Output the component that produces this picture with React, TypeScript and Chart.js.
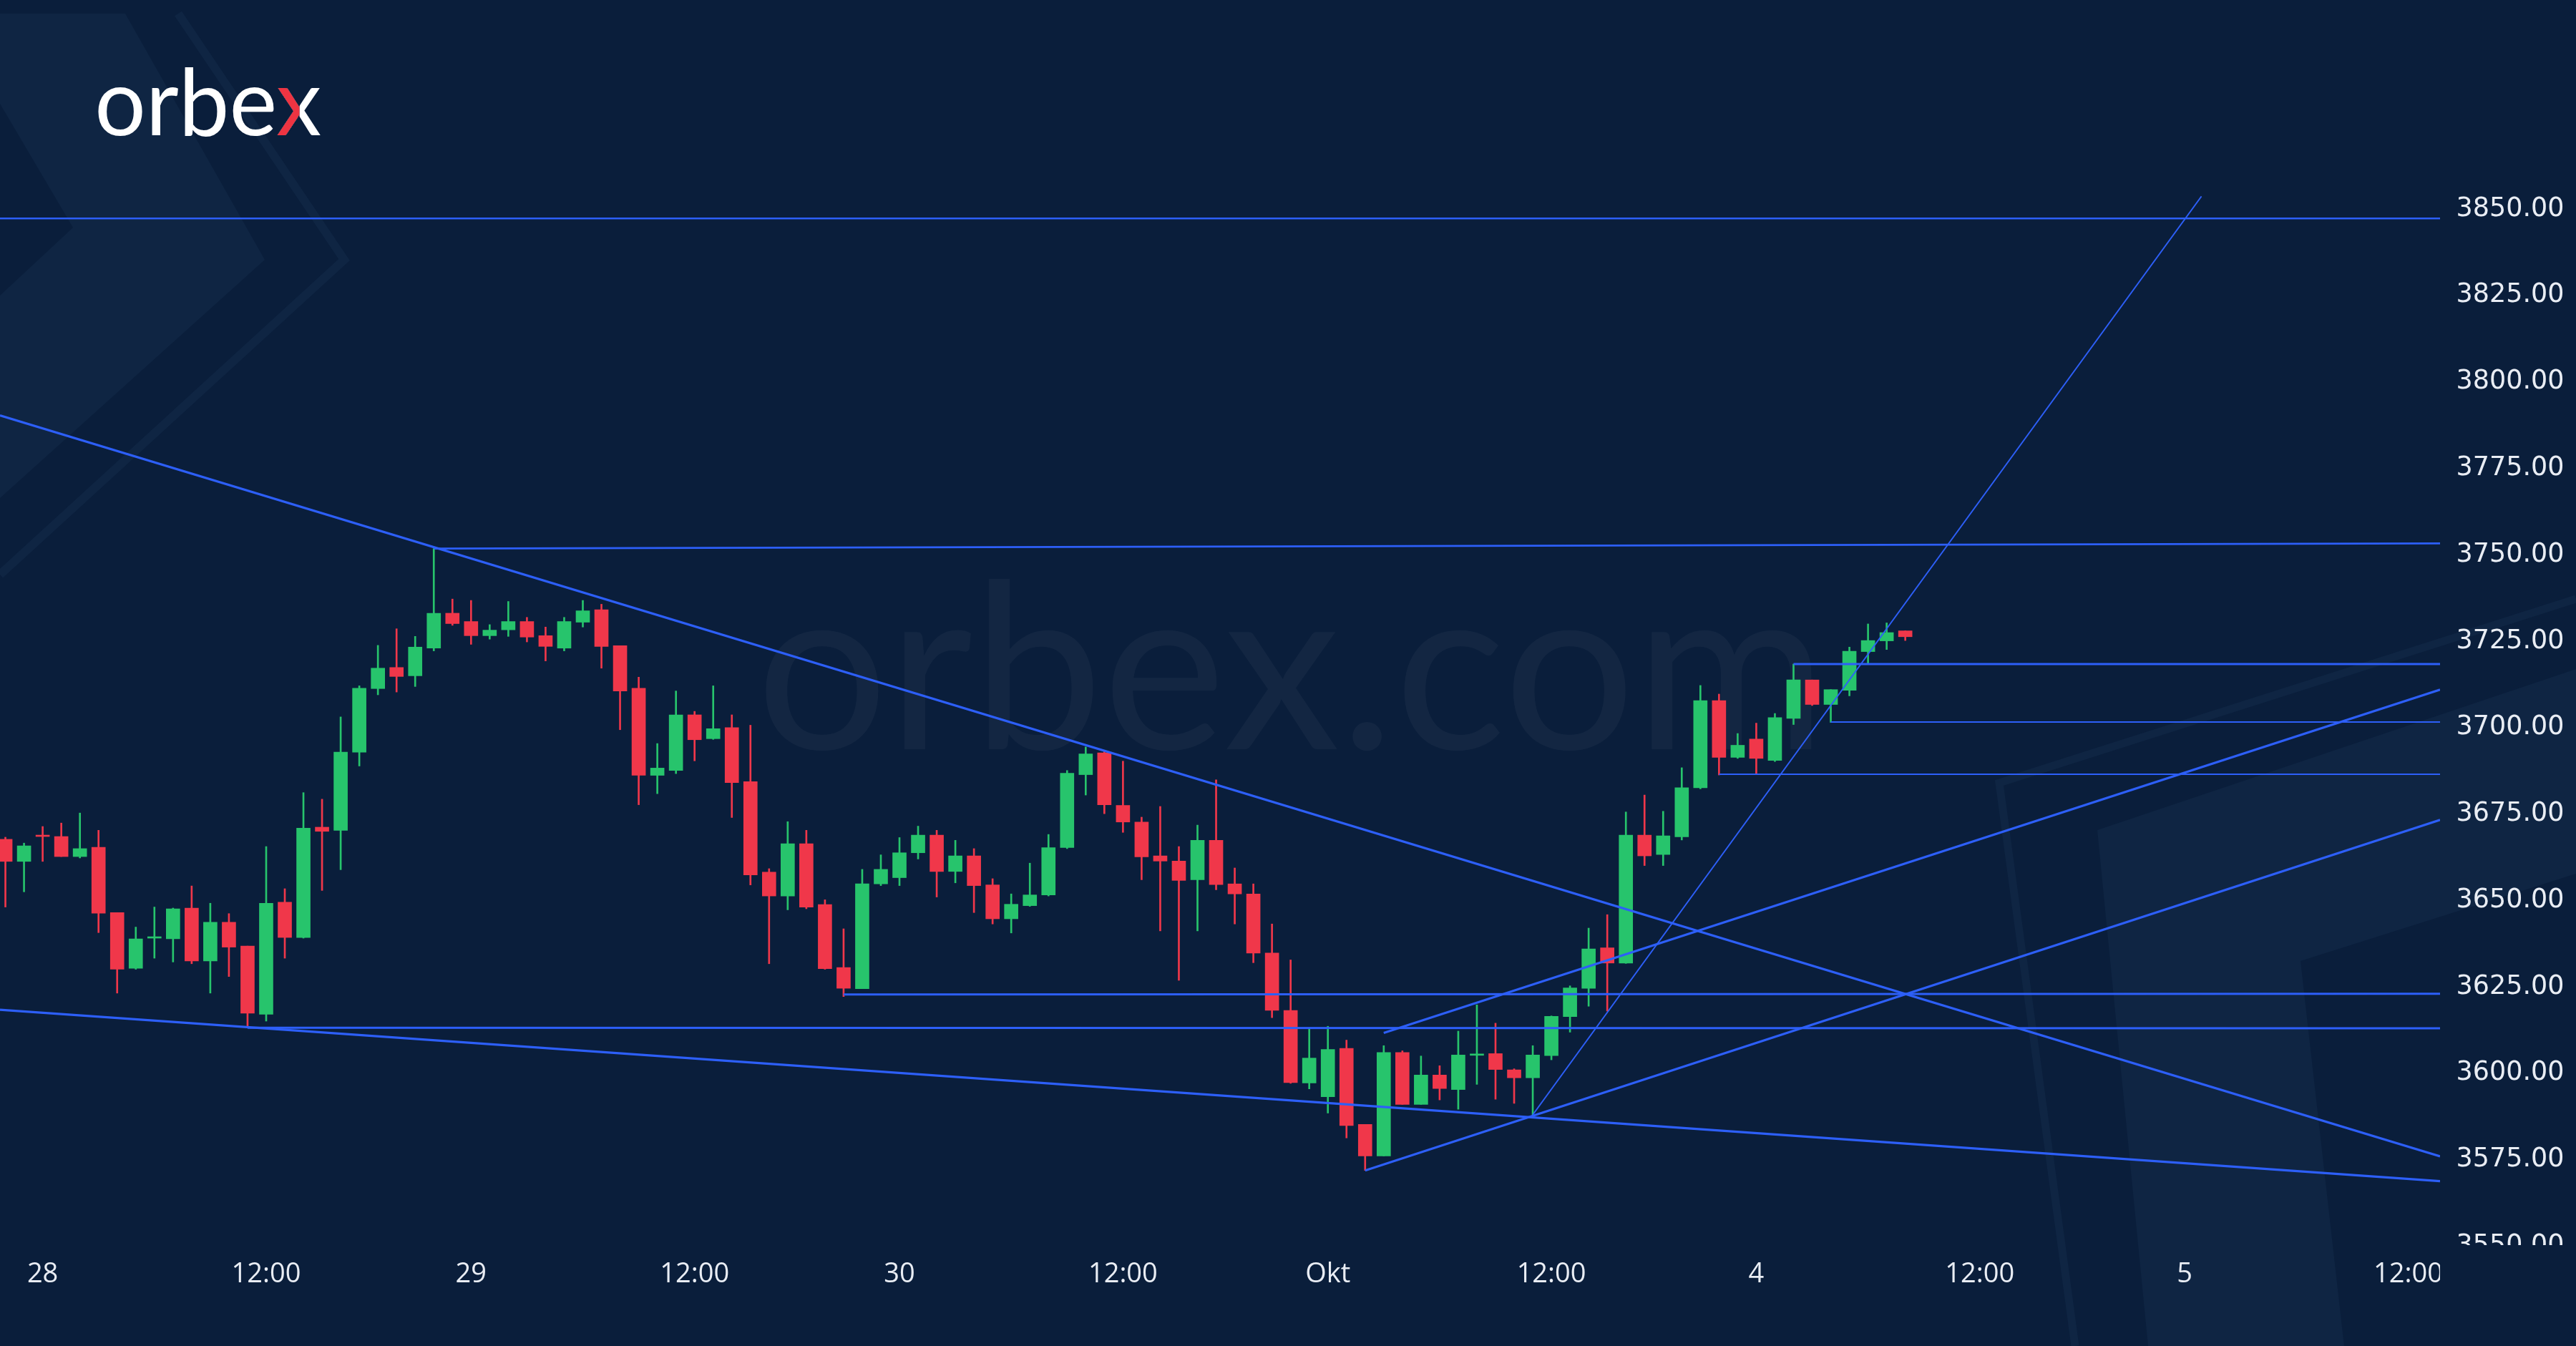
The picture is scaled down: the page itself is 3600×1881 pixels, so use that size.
import React, { useEffect, useRef } from 'react';
import { Chart, registerables } from 'chart.js';

Chart.register(...registerables);

const W = 3600;
const H = 1881;

// ---- data ----
const firstBar = -2; // bar index of the first candle (index 0 = 28 Sep 00:00, hourly bars)

const opens = [
  3666.9, 3660.5, 3668.0, 3667.7, 3661.9, 3664.6, 3645.7, 3629.6, 3638.3, 3638.1,
  3647.0, 3631.7, 3642.9, 3636.0, 3616.3, 3648.7, 3638.5, 3670.4, 3669.5, 3692.1,
  3710.5, 3716.6, 3714.2, 3722.2, 3732.3, 3729.9, 3725.8, 3727.5, 3729.9, 3725.8,
  3722.2, 3729.7, 3733.3, 3722.9, 3710.6, 3685.4, 3686.8, 3702.9, 3696.0, 3699.2,
  3683.6, 3657.4, 3650.5, 3665.6, 3648.0, 3629.8, 3623.7, 3654.0, 3655.8, 3663.0,
  3668.1, 3657.6, 3662.1, 3653.7, 3643.9, 3647.7, 3650.8, 3664.5, 3685.6, 3691.9,
  3676.7, 3671.9, 3662.1, 3660.6, 3655.2, 3666.6, 3654.0, 3651.1, 3634.0, 3617.4,
  3596.4, 3592.4, 3606.4, 3584.4, 3575.3, 3605.2, 3590.2, 3598.7, 3594.5, 3604.4,
  3604.9, 3600.2, 3597.9, 3604.3, 3615.6, 3623.8, 3635.5, 3631.1, 3668.1, 3662.5,
  3667.6, 3681.8, 3707.0, 3690.6, 3695.9, 3689.7, 3701.9, 3713.0, 3705.9, 3710.0,
  3721.2, 3724.3, 3727.2,
];
const highs = [
  3667.5, 3665.8, 3670.6, 3671.6, 3674.5, 3669.5, 3645.7, 3641.5, 3647.3, 3647.0,
  3653.4, 3648.4, 3645.4, 3636.0, 3664.8, 3652.6, 3680.4, 3678.5, 3702.3, 3711.3,
  3723.0, 3727.8, 3725.6, 3751.0, 3736.4, 3736.0, 3729.0, 3735.7, 3731.1, 3728.3,
  3731.1, 3736.0, 3734.9, 3722.9, 3713.8, 3694.6, 3709.8, 3703.9, 3711.3, 3702.9,
  3699.9, 3658.4, 3672.0, 3669.5, 3649.4, 3641.0, 3658.2, 3662.4, 3667.4, 3670.7,
  3669.5, 3666.6, 3664.2, 3655.5, 3651.1, 3660.0, 3668.3, 3686.8, 3693.6, 3692.4,
  3689.5, 3673.3, 3676.4, 3664.8, 3671.0, 3684.1, 3658.6, 3654.0, 3642.4, 3632.0,
  3612.3, 3612.8, 3608.8, 3584.4, 3607.2, 3605.7, 3604.2, 3601.4, 3611.4, 3619.0,
  3613.7, 3600.5, 3607.2, 3615.8, 3624.5, 3641.2, 3645.1, 3674.8, 3679.7, 3675.0,
  3687.6, 3711.4, 3708.9, 3697.5, 3700.5, 3703.3, 3717.6, 3713.0, 3710.2, 3722.5,
  3729.2, 3729.5, 3727.2,
];
const lows = [
  3647.3, 3651.7, 3660.5, 3661.9, 3661.5, 3639.9, 3622.4, 3629.3, 3632.5, 3631.4,
  3630.9, 3622.4, 3627.2, 3612.4, 3614.3, 3632.5, 3638.3, 3652.1, 3658.1, 3688.1,
  3708.7, 3709.5, 3711.1, 3721.4, 3728.8, 3723.3, 3724.8, 3725.6, 3724.0, 3718.5,
  3721.4, 3728.3, 3716.4, 3698.6, 3676.9, 3680.1, 3685.9, 3689.6, 3695.8, 3673.2,
  3653.7, 3630.9, 3646.5, 3646.8, 3629.3, 3621.4, 3623.7, 3653.5, 3653.5, 3661.2,
  3650.2, 3654.3, 3645.7, 3642.4, 3639.8, 3647.5, 3650.5, 3664.2, 3679.7, 3674.3,
  3668.9, 3655.2, 3640.4, 3626.1, 3640.4, 3652.3, 3642.4, 3631.2, 3615.3, 3596.3,
  3594.7, 3587.7, 3580.5, 3571.1, 3575.3, 3590.2, 3590.2, 3591.5, 3588.8, 3596.0,
  3591.7, 3590.5, 3587.2, 3603.1, 3611.1, 3618.6, 3617.2, 3631.0, 3659.3, 3659.3,
  3666.7, 3681.5, 3685.5, 3690.3, 3685.9, 3689.4, 3700.1, 3705.6, 3700.7, 3708.4,
  3717.5, 3721.8, 3724.4,
];
const closes = [
  3660.5, 3665.0, 3667.7, 3661.9, 3664.2, 3645.5, 3629.3, 3638.1, 3638.6, 3646.8,
  3631.7, 3642.9, 3635.7, 3616.6, 3648.4, 3638.5, 3670.1, 3669.2, 3692.1, 3710.6,
  3716.4, 3714.0, 3722.5, 3732.3, 3729.3, 3725.8, 3727.4, 3729.9, 3725.4, 3722.7,
  3729.9, 3733.0, 3722.7, 3709.8, 3685.4, 3687.5, 3702.9, 3695.7, 3698.9, 3683.3,
  3656.6, 3650.5, 3665.6, 3647.3, 3629.5, 3623.8, 3654.0, 3658.2, 3663.0, 3668.1,
  3657.6, 3662.1, 3653.5, 3643.9, 3648.1, 3650.8, 3664.5, 3686.0, 3691.6, 3676.9,
  3671.9, 3661.8, 3660.6, 3655.0, 3666.6, 3653.8, 3651.1, 3634.0, 3617.4, 3596.5,
  3603.6, 3606.1, 3584.1, 3575.3, 3605.2, 3590.2, 3598.7, 3594.8, 3604.5, 3604.6,
  3600.3, 3597.9, 3604.5, 3615.7, 3623.9, 3635.2, 3631.1, 3668.1, 3662.1, 3667.9,
  3681.8, 3707.0, 3690.6, 3694.1, 3690.3, 3702.1, 3713.0, 3705.9, 3710.2, 3721.3,
  3724.4, 3726.7, 3725.5,
];

const xTickIdx = [0, 12, 23, 35, 46, 58, 69, 81, 92, 104, 115, 127];
const xTickLabels = ['28', '12:00', '29', '12:00', '30', '12:00', 'Okt', '12:00', '4', '12:00', '5', '12:00'];
const yTickValues = [3550, 3575, 3600, 3625, 3650, 3675, 3700, 3725, 3750, 3775, 3800, 3825, 3850];

// trend lines: [barIndex1, price1, barIndex2, price2]
const trendLines: [number, number, number, number][] = [
  [-2.29, 3846.5, 128.71, 3846.5],
  [21, 3751.0, 128.71, 3752.5],
  [-2.29, 3789.5, 128.71, 3575.2],
  [-2.29, 3617.6, 128.71, 3568.0],
  [11, 3612.4, 128.71, 3612.2],
  [43, 3622.0, 128.71, 3622.2],
  [71, 3571.1, 128.71, 3672.5],
  [72, 3610.9, 128.71, 3710.2],
  [80, 3587.2, 115.9, 3852.9],
  [94, 3717.6, 128.71, 3717.6],
  [96, 3700.8, 128.71, 3700.8],
  [90, 3685.7, 128.71, 3685.7],
];
const trendWidths = [2.6, 2.6, 3.2, 3.2, 3, 3, 3.2, 3.2, 1.8, 3, 2, 2];

// ---- view / style ----
const X_MIN = -2.29;
const X_MAX = 128.71;
const Y_MIN = 3549.5;
const Y_MAX = 3909.7;

const BG = '#0a1e3b';
const DECO = '#0f2543';
const GREEN = '#27c46c';
const RED = '#f0374a';
const LINE = '#2d5ff8';
const TEXT = '#e9edf4';

function drawFitted(
  ctx: CanvasRenderingContext2D,
  text: string,
  family: string,
  weight: string,
  left: number,
  right: number,
  baseline: number,
  xHeight: number,
  color: string,
  redX?: string
) {
  ctx.save();
  ctx.font = `${weight} 100px ${family}`;
  const xh = ctx.measureText('x').actualBoundingBoxAscent || 52;
  const size = (100 * xHeight) / xh;
  ctx.font = `${weight} ${size}px ${family}`;
  const m = ctx.measureText(text);
  const L = m.actualBoundingBoxLeft;
  const R = m.actualBoundingBoxRight;
  const sx = (right - left) / (L + R);
  ctx.translate(left, baseline);
  ctx.scale(sx, 1);
  ctx.textAlign = 'left';
  ctx.textBaseline = 'alphabetic';
  ctx.fillStyle = color;
  ctx.fillText(text, L, 0);
  if (redX) {
    const xi = text.indexOf('x');
    const pre = ctx.measureText(text.slice(0, xi)).width;
    const wx = ctx.measureText('x').width;
    ctx.beginPath();
    ctx.rect(L + pre - 2, -size, wx / 2 + 2, size * 1.5);
    ctx.clip();
    ctx.fillStyle = BG;
    ctx.fillText(text, L, 0);
    ctx.fillStyle = redX;
    ctx.fillText(text, L, 0);
  }
  ctx.restore();
}

const bgPlugin = {
  id: 'orbexBackground',
  beforeDraw(chart: any) {
    const ctx: CanvasRenderingContext2D = chart.ctx;
    ctx.save();
    ctx.fillStyle = BG;
    ctx.fillRect(0, 0, W, H);

    // top-left chevron band
    ctx.fillStyle = DECO;
    ctx.beginPath();
    ctx.moveTo(0, 19);
    ctx.lineTo(175, 19);
    ctx.lineTo(370, 363);
    ctx.lineTo(0, 696);
    ctx.closePath();
    ctx.moveTo(0, 145);
    ctx.lineTo(102, 318);
    ctx.lineTo(0, 413);
    ctx.closePath();
    ctx.fill('evenodd');
    // top-left chevron outline
    ctx.strokeStyle = DECO;
    ctx.lineWidth = 12;
    ctx.lineJoin = 'miter';
    ctx.beginPath();
    ctx.moveTo(249, 19);
    ctx.lineTo(481, 363);
    ctx.lineTo(0, 803);
    ctx.stroke();

    // bottom-right outline
    ctx.lineWidth = 11;
    ctx.beginPath();
    ctx.moveTo(3600, 837);
    ctx.lineTo(2794, 1094);
    ctx.lineTo(2900, 1881);
    ctx.stroke();
    // bottom-right band
    ctx.beginPath();
    ctx.moveTo(3600, 935);
    ctx.lineTo(2931, 1160);
    ctx.lineTo(3002, 1881);
    ctx.lineTo(3276, 1881);
    ctx.lineTo(3215, 1343);
    ctx.lineTo(3600, 1221);
    ctx.closePath();
    ctx.fill();
    ctx.restore();

    // watermark
    drawFitted(ctx, 'orbex.com', 'Lato, "Noto Sans", sans-serif', '400', 1067, 2534, 1047, 168, 'rgba(255,255,255,0.04)');
    // logo
    drawFitted(ctx, 'orbex', 'Lato, "Noto Sans", sans-serif', '400', 137, 448, 189, 68, '#ffffff', '#ee3442');
  },
};

const labelPlugin = {
  id: 'axisLabels',
  afterDraw(chart: any) {
    const ctx: CanvasRenderingContext2D = chart.ctx;
    const area = chart.chartArea;
    const xs = chart.scales.x;
    const ys = chart.scales.y;

    ctx.save();
    ctx.beginPath();
    ctx.rect(area.right, 0, W - area.right, area.bottom);
    ctx.clip();
    ctx.fillStyle = TEXT;
    ctx.font = '36.5px "DejaVu Sans"';
    ctx.textAlign = 'center';
    ctx.textBaseline = 'alphabetic';
    yTickValues.forEach((v) => {
      ctx.fillText(v.toFixed(2), area.right + 98, ys.getPixelForValue(v) + 13.3);
    });
    ctx.restore();

    ctx.save();
    ctx.beginPath();
    ctx.rect(0, area.bottom, area.right, H - area.bottom);
    ctx.clip();
    ctx.fillStyle = TEXT;
    ctx.font = '38px "Open Sans"';
    ctx.textAlign = 'center';
    ctx.textBaseline = 'alphabetic';
    xTickIdx.forEach((t, i) => {
      ctx.fillText(xTickLabels[i], xs.getPixelForValue(t), area.bottom + 52);
    });
    ctx.restore();
  },
};

export default function App() {
  const ref = useRef<HTMLCanvasElement>(null);

  useEffect(() => {
    const canvas = ref.current;
    if (!canvas) return;
    const idx = opens.map((_, i) => firstBar + i);
    const colors = opens.map((o, i) => (closes[i] >= o ? GREEN : RED));
    const bodyData = idx.map((x, i) => ({ x, y: [opens[i], closes[i]] }));
    const wickData = idx.map((x, i) => ({ x, y: [lows[i], highs[i]] }));
    const lineSets = trendLines.map(([x1, y1, x2, y2], k) => ({
      type: 'line',
      data: [
        { x: x1, y: y1 },
        { x: x2, y: y2 },
      ],
      borderColor: LINE,
      borderWidth: trendWidths[k],
      pointRadius: 0,
      fill: false,
      tension: 0,
      order: 0,
    }));

    const chart = new Chart(canvas, {
      type: 'bar',
      data: {
        datasets: [
          ...lineSets,
          {
            type: 'bar',
            data: bodyData,
            backgroundColor: colors,
            barThickness: 19,
            minBarLength: 2,
            grouped: false,
            borderWidth: 0,
            order: 1,
          },
          {
            type: 'bar',
            data: wickData,
            backgroundColor: colors,
            barThickness: 2,
            grouped: false,
            borderWidth: 0,
            order: 2,
          },
        ] as any,
      },
      options: {
        responsive: false,
        animation: false,
        events: [],
        layout: { padding: { left: 0, top: 0, right: 190, bottom: 141 } },
        plugins: {
          legend: { display: false },
          tooltip: { enabled: false },
          title: { display: false },
        },
        scales: {
          x: { type: 'linear', min: X_MIN, max: X_MAX, display: false, offset: false },
          y: { type: 'linear', min: Y_MIN, max: Y_MAX, display: false },
        },
      } as any,
      plugins: [bgPlugin, labelPlugin],
    });
    return () => chart.destroy();
  }, []);

  return (
    <div style={{ position: 'fixed', left: 0, top: 0, width: W, height: H, background: BG }}>
      <canvas ref={ref} width={W} height={H} style={{ display: 'block', width: W, height: H }} />
    </div>
  );
}
